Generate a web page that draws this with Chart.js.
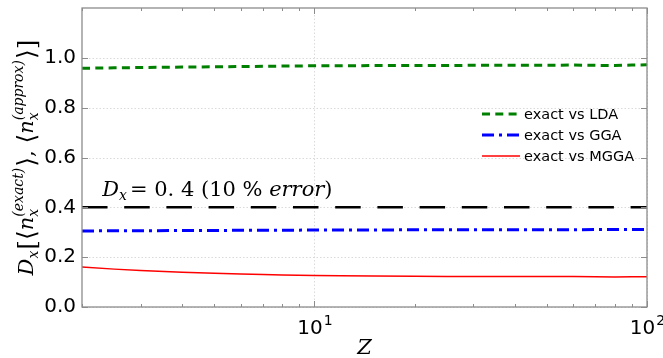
<!DOCTYPE html>
<html>
<head>
<meta charset="utf-8">
<script src="https://cdn.jsdelivr.net/npm/chart.js@4.4.1/dist/chart.umd.min.js"></script>
<style>
  html, body { margin: 0; padding: 0; background: #fff; }
</style>
</head>
<body>
<canvas id="c" width="663" height="358"></canvas>
<script>
"use strict";

// data
const Z_VALUES = [2, 2.5, 3, 4, 5, 6, 7, 8, 10, 12, 15, 20, 25, 30, 40, 50, 60, 70, 80, 90, 100];
const LDA = [0.958, 0.960, 0.961, 0.963, 0.964, 0.965, 0.966, 0.967, 0.968, 0.968, 0.969,
  0.969, 0.969, 0.970, 0.970, 0.970, 0.971, 0.970, 0.969, 0.971, 0.972];
const GGA = [0.305, 0.306, 0.306, 0.307, 0.307, 0.308, 0.308, 0.308, 0.309, 0.309, 0.309,
  0.310, 0.310, 0.310, 0.310, 0.310, 0.310, 0.311, 0.311, 0.311, 0.311];
const MGGA = [0.161, 0.152, 0.146, 0.139, 0.135, 0.132, 0.130, 0.128, 0.126, 0.125, 0.124,
  0.123, 0.122, 0.122, 0.122, 0.122, 0.122, 0.121, 0.120, 0.121, 0.121];
const SERIES_LABELS = ["exact vs LDA", "exact vs GGA", "exact vs MGGA"];
const THRESHOLD = 0.4;
const NOTE_AT = { x: 2.3, y: 0.445 };

const Y_TICKS = [0, 0.2, 0.4, 0.6, 0.8, 1.0];
const X_MAJOR = [10, 100];
const X_MAJOR_EXP = ["1", "2"];
const X_MINOR = [2, 3, 4, 5, 6, 7, 8, 9, 20, 30, 40, 50, 60, 70, 80, 90];

const STYLES = [
  { color: "#008000", width: 3, dash: [8, 5.3] },
  { color: "#0000ff", width: 3, dash: [12, 5, 3, 5] },
  { color: "#ff0000", width: 1.5, dash: [] },
];

function pts(ys) {
  return Z_VALUES.map((z, i) => ({ x: z, y: ys[i] }));
}

function serif(size, italic) {
  return (italic ? "italic " : "") + size + 'px "DejaVu Serif"';
}

// draws a row of text pieces; pieces with sub/sup are stacked at one x
function drawMath(ctx, parts, x, y, center) {
  const w1 = (p) => {
    ctx.font = serif(p.size, p.it);
    return ctx.measureText(p.t).width;
  };
  const pw = (p) => (p.sub ? Math.max(w1(p.sub), w1(p.sup)) : w1(p)) + (p.gap || 0);
  const total = parts.reduce((s, p) => s + pw(p), 0);
  let cx = center ? x - total / 2 : x;
  ctx.textAlign = "left";
  ctx.textBaseline = "alphabetic";
  ctx.fillStyle = "#000";
  for (const p of parts) {
    const items = p.sub ? [p.sub, p.sup] : [p];
    for (const it of items) {
      ctx.font = serif(it.size, it.it);
      ctx.fillText(it.t, cx, y + (it.dy || 0));
    }
    cx += pw(p);
  }
}

const subX = { t: "x", size: 14, it: true, dy: 5 };
const Y_TITLE = [
  { t: "D", size: 21, it: true },
  { t: "x", size: 14, it: true, dy: 5, gap: 1 },
  { t: "[", size: 25, dy: 2 },
  { t: "\u27E8", size: 25, dy: 2 },
  { t: "n", size: 21, it: true },
  { sub: subX, sup: { t: "(exact)", size: 14, it: true, dy: -10 }, gap: 1 },
  { t: "\u27E9", size: 25, dy: 2 },
  { t: ", ", size: 21 },
  { t: "\u27E8", size: 25, dy: 2 },
  { t: "n", size: 21, it: true },
  { sub: subX, sup: { t: "(approx)", size: 14, it: true, dy: -10 }, gap: 1 },
  { t: "\u27E9", size: 25, dy: 2 },
  { t: "]", size: 25, dy: 2 },
];
const NOTE = [
  { t: "D", size: 21, it: true },
  { t: "x", size: 14, it: true, dy: 4, gap: 3 },
  { t: "= 0. 4 (10 % ", size: 21 },
  { t: "error", size: 21, it: true },
  { t: ")", size: 21 },
];

const framePlugin = {
  id: "frame",
  beforeDatasetsDraw(chart) {
    const { ctx, chartArea: a, scales: { x, y } } = chart;
    ctx.save();
    ctx.strokeStyle = "#d0d0d0";
    ctx.lineWidth = 0.8;
    ctx.setLineDash([1.5, 2]);
    Y_TICKS.forEach((v) => {
      const py = Math.round(y.getPixelForValue(v)) + 0.5;
      ctx.beginPath();
      ctx.moveTo(a.left, py);
      ctx.lineTo(a.right, py);
      ctx.stroke();
    });
    X_MAJOR.forEach((v) => {
      const px = Math.round(x.getPixelForValue(v)) + 0.5;
      ctx.beginPath();
      ctx.moveTo(px, a.top);
      ctx.lineTo(px, a.bottom);
      ctx.stroke();
    });
    ctx.restore();
  },
  afterDraw(chart) {
    const { ctx, chartArea: a, scales: { x, y } } = chart;
    ctx.save();
    // ticks, inside
    ctx.strokeStyle = "#8c8c8c";
    ctx.lineWidth = 1;
    const tick = (x0, y0, x1, y1) => {
      ctx.beginPath();
      ctx.moveTo(x0, y0);
      ctx.lineTo(x1, y1);
      ctx.stroke();
    };
    X_MAJOR.forEach((v) => {
      const px = Math.round(x.getPixelForValue(v)) + 0.5;
      tick(px, a.bottom, px, a.bottom - 6);
      tick(px, a.top, px, a.top + 6);
    });
    X_MINOR.forEach((v) => {
      const px = Math.round(x.getPixelForValue(v)) + 0.5;
      tick(px, a.bottom, px, a.bottom - 3);
      tick(px, a.top, px, a.top + 3);
    });
    Y_TICKS.forEach((v) => {
      const py = Math.round(y.getPixelForValue(v)) + 0.5;
      tick(a.left, py, a.left + 6, py);
      tick(a.right, py, a.right - 6, py);
    });
    ctx.lineWidth = 1.3;
    ctx.strokeRect(a.left, a.top, a.right - a.left, a.bottom - a.top);

    // x tick labels 10^n
    ctx.fillStyle = "#000";
    X_MAJOR.forEach((v, i) => {
      const px = x.getPixelForValue(v);
      ctx.font = '20px "DejaVu Sans"';
      const wb = ctx.measureText("10").width;
      ctx.font = '14px "DejaVu Sans"';
      const we = ctx.measureText(X_MAJOR_EXP[i]).width;
      const left = px - (wb + we) / 2;
      ctx.textAlign = "left";
      ctx.textBaseline = "alphabetic";
      ctx.font = '20px "DejaVu Sans"';
      ctx.fillText("10", left, a.bottom + 27);
      ctx.font = '14px "DejaVu Sans"';
      ctx.fillText(X_MAJOR_EXP[i], left + wb + 1, a.bottom + 18);
    });

    // x title
    drawMath(ctx, [{ t: "Z", size: 21, it: true }], (a.left + a.right) / 2, 354, true);

    // y title
    ctx.save();
    ctx.translate(33, (a.top + a.bottom) / 2);
    ctx.rotate(-Math.PI / 2);
    drawMath(ctx, Y_TITLE, 0, 0, true);
    ctx.restore();

    // threshold note
    drawMath(ctx, NOTE, x.getPixelForValue(NOTE_AT.x), y.getPixelForValue(NOTE_AT.y), false);

    // legend
    const lx0 = 482, lx1 = 520, ly0 = 114, step = 21;
    SERIES_LABELS.forEach((lab, i) => {
      const st = STYLES[i];
      const ly = ly0 + i * step;
      ctx.strokeStyle = st.color;
      ctx.lineWidth = st.width;
      ctx.setLineDash(st.dash);
      ctx.beginPath();
      ctx.moveTo(lx0, ly);
      ctx.lineTo(lx1, ly);
      ctx.stroke();
      ctx.setLineDash([]);
      ctx.fillStyle = "#000";
      ctx.font = '14.5px "DejaVu Sans"';
      ctx.textAlign = "left";
      ctx.textBaseline = "middle";
      ctx.fillText(lab, 524, ly + 1);
    });
    ctx.restore();
  },
};

const lineBase = { pointRadius: 0, tension: 0, fill: false };

new Chart(document.getElementById("c"), {
  type: "line",
  plugins: [framePlugin],
  data: {
    datasets: [
      { ...lineBase, label: SERIES_LABELS[0], data: pts(LDA), borderColor: STYLES[0].color,
        borderWidth: STYLES[0].width, borderDash: STYLES[0].dash },
      { ...lineBase, label: SERIES_LABELS[1], data: pts(GGA), borderColor: STYLES[1].color,
        borderWidth: STYLES[1].width, borderDash: STYLES[1].dash },
      { ...lineBase, label: SERIES_LABELS[2], data: pts(MGGA), borderColor: STYLES[2].color,
        borderWidth: STYLES[2].width, borderDash: STYLES[2].dash },
      { ...lineBase, label: "threshold",
        data: [{ x: Z_VALUES[0], y: THRESHOLD }, { x: Z_VALUES[Z_VALUES.length - 1], y: THRESHOLD }],
        borderColor: "#000", borderWidth: 2.5, borderDash: [25.5, 16.7] },
    ],
  },
  options: {
    responsive: false,
    animation: false,
    devicePixelRatio: 1,
    layout: { padding: { left: 0, right: 16, top: 8, bottom: 0 } },
    plugins: { legend: { display: false }, tooltip: { enabled: false } },
    scales: {
      x: {
        type: "logarithmic",
        min: 2,
        max: 100,
        grid: { display: false },
        border: { display: false },
        ticks: { display: false },
        afterFit: (s) => { s.height = 51; },
      },
      y: {
        min: 0,
        max: 1.2,
        grid: { display: false, drawTicks: false },
        border: { display: false },
        ticks: {
          stepSize: 0.2,
          padding: 6,
          color: "#000",
          font: { family: "DejaVu Sans", size: 20 },
          callback: (v) => (v > 1.1 ? "" : v.toFixed(1)),
        },
        afterFit: (s) => { s.width = 82; s.paddingTop = 0; s.paddingBottom = 0; },
      },
    },
  },
});
</script>
</body>
</html>
